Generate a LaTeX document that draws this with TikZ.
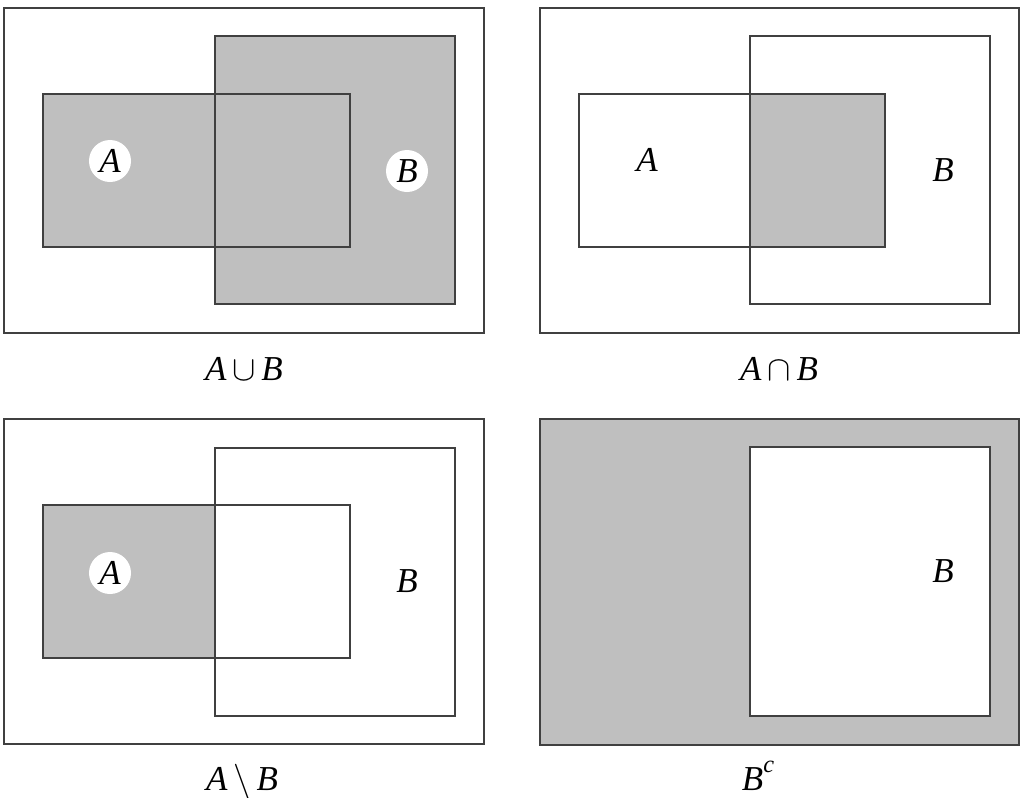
\documentclass[tikz,border=0pt]{standalone}
\usepackage{fontspec}
\setmainfont{Liberation Serif}[ItalicFont={Liberation Serif Italic}]
\newfontfamily\setfont{Liberation Serif Italic}
\tikzset{
    setline/.style={draw=black!75, line width=1.3pt},
    setfill/.style={fill=black!25},
    namedot/.style={circle, fill=white, minimum size=1.05cm, inner sep=0pt},
    setname/.style={font=\fontsize{24.88}{30}\setfont, inner sep=0pt},
    caption/.style={font=\fontsize{24.88}{30}\setfont, inner sep=0pt, anchor=base}
}
\begin{document}
\begin{tikzpicture}[x=0.025cm, y=-0.025cm]
    \useasboundingbox (0, 0) rectangle (1023, 797);

    % union
        \fill[setfill] (43, 94) rectangle (350, 247);
        \fill[setfill] (215, 36) rectangle (455, 304);
        \draw[setline] (4, 8) rectangle (484, 333);
        \draw[setline] (43, 94) rectangle (350, 247);
        \draw[setline] (215, 36) rectangle (455, 304);
        \node[namedot, setname] (unionA) at (110, 161) {A};
        \node[namedot, setname] (unionB) at (407, 171) {B};
        \node[caption] (unioncap) at (244, 380) {A\,$\cup$\,B};

    % intersection
        \fill[setfill] (750, 94) rectangle (885, 247);
        \draw[setline] (540, 8) rectangle (1019, 333);
        \draw[setline] (579, 94) rectangle (885, 247);
        \draw[setline] (750, 36) rectangle (990, 304);
        \node[setname] (capA) at (647, 160) {A};
        \node[setname] (capB) at (943, 170) {B};
        \node[caption] (capcap) at (779, 380) {A\,$\cap$\,B};

    % difference
        \fill[setfill] (43, 505) rectangle (215, 658);
        \draw[setline] (4, 419) rectangle (484, 744);
        \draw[setline] (43, 505) rectangle (350, 658);
        \draw[setline] (215, 448) rectangle (455, 716);
        \node[namedot, setname] (diffA) at (110, 573) {A};
        \node[setname] (diffB) at (407, 581) {B};
        \node[caption] (diffcap) at (242, 790) {A\,$\setminus$\,B};

    % complement
        \fill[setfill] (540, 419) rectangle (1019, 745);
        \fill[white] (750, 447) rectangle (990, 716);
        \draw[setline] (540, 419) rectangle (1019, 745);
        \draw[setline] (750, 447) rectangle (990, 716);
        \node[setname] (compB) at (943, 571) {B};
        \node[caption] (compcap) at (758, 790) {B\raisebox{1.1ex}{\fontsize{17.28}{20}\setfont c}};
\end{tikzpicture}
\end{document}
